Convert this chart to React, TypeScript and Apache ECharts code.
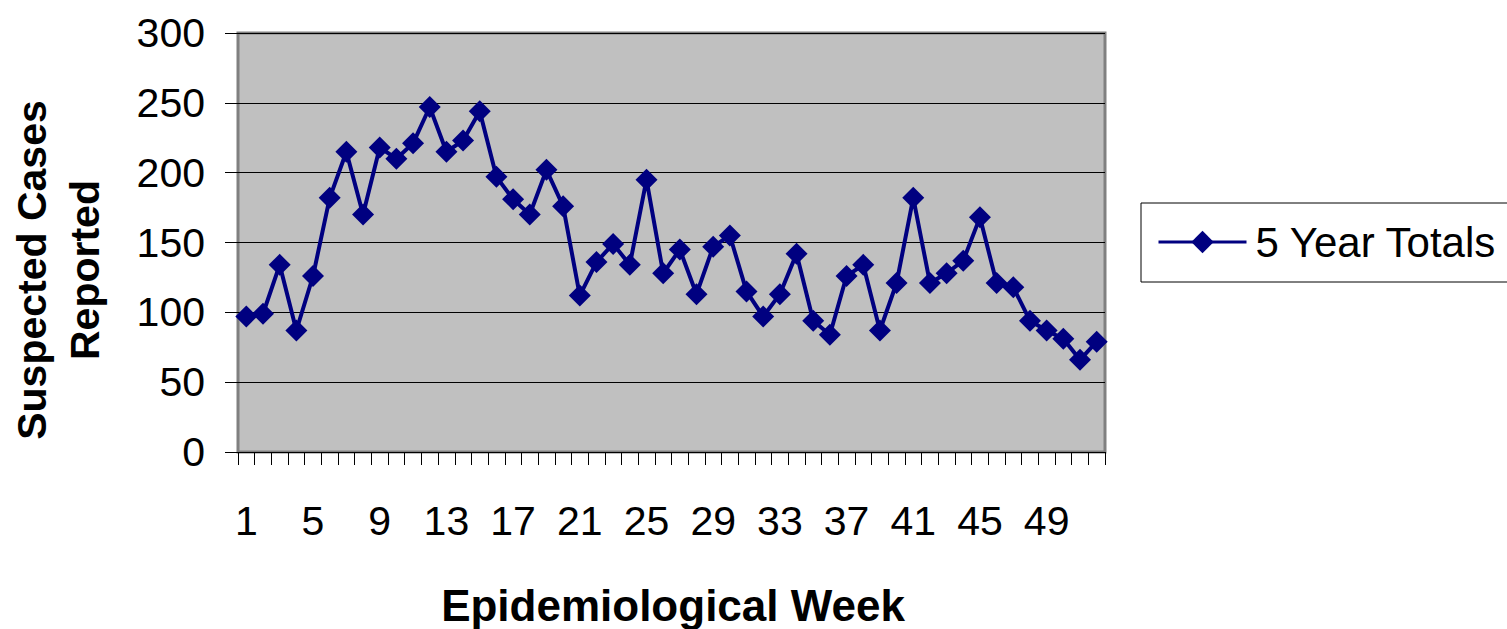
import React, { useEffect, useRef } from "react";
import * as echarts from "echarts";

const weeks: string[] = Array.from({ length: 52 }, (_, i) => String(i + 1));
const seriesName = "5 Year Totals";
const totals: number[] = [
  97, 99, 134, 87, 126, 182, 215, 170, 218, 210,
  221, 247, 215, 223, 244, 197, 181, 170, 202, 176,
  112, 136, 149, 134, 195, 128, 145, 113, 147, 155,
  115, 97, 113, 142, 94, 84, 126, 134, 87, 121,
  182, 121, 128, 137, 168, 121, 118, 94, 87, 81,
  66, 79,
];
const yTitle = "Suspected Cases\nReported";
const xTitle = "Epidemiological Week";

const FONT = "'Liberation Sans', Arial, sans-serif";

export default function App() {
  const ref = useRef<HTMLDivElement>(null);
  useEffect(() => {
    if (!ref.current) return;
    const chart = echarts.init(ref.current, undefined, { renderer: "svg" });
    chart.setOption({
      animation: false,
      backgroundColor: "#ffffff",
      textStyle: { fontFamily: FONT },
      grid: {
        left: 238,
        top: 33,
        width: 867,
        height: 419,
        show: true,
        backgroundColor: "#c0c0c0",
        borderColor: "#808080",
        borderWidth: 3,
      },
      legend: {
        left: 1141,
        top: 203,
        orient: "vertical",
        data: [seriesName],
        itemWidth: 88,
        itemHeight: 28,
        itemGap: 0,
        padding: [18, 40, 19, 16],
        borderColor: "#000000",
        borderWidth: 1,
        lineStyle: { width: 3 },
        textStyle: { fontSize: 42, color: "#000", fontFamily: FONT, padding: [0, 0, 0, 4] },
      },
      xAxis: {
        type: "category",
        data: weeks,
        boundaryGap: true,
        axisLine: { show: false },
        axisTick: { show: true, interval: 0, length: 13, lineStyle: { color: "#000", width: 1 } },
        axisLabel: { interval: 3, fontSize: 41, color: "#000", margin: 48, fontFamily: FONT },
        splitLine: { show: false },
      },
      yAxis: {
        type: "value",
        min: 0,
        max: 300,
        interval: 50,
        axisLine: { show: false },
        axisTick: { show: true, length: 13, lineStyle: { color: "#000", width: 1 } },
        axisLabel: { fontSize: 41, color: "#000", margin: 33, fontFamily: FONT },
        splitLine: { show: true, lineStyle: { color: "#000", width: 1 } },
      },
      series: [
        {
          name: seriesName,
          type: "line",
          data: totals,
          symbol: "diamond",
          symbolSize: 22,
          showSymbol: true,
          showAllSymbol: true,
          color: "#000080",
          lineStyle: { color: "#000080", width: 4 },
          itemStyle: { color: "#000080" },
        },
      ],
      graphic: [
        {
          type: "text",
          x: 58,
          y: 270,
          rotation: Math.PI / 2,
          style: {
            text: yTitle,
            fontSize: 41,
            fontWeight: "bold",
            fontFamily: FONT,
            fill: "#000",
            align: "center",
            verticalAlign: "middle",
            lineHeight: 53,
          },
        },
        {
          type: "text",
          x: 673,
          y: 605,
          style: {
            text: xTitle,
            fontSize: 44,
            fontWeight: "bold",
            fontFamily: FONT,
            fill: "#000",
            align: "center",
            verticalAlign: "middle",
          },
        },
      ],
    });
    return () => chart.dispose();
  }, []);
  return (
    <div
      ref={ref}
      style={{ position: "fixed", left: 0, top: 0, width: 1507, height: 629 }}
    />
  );
}
